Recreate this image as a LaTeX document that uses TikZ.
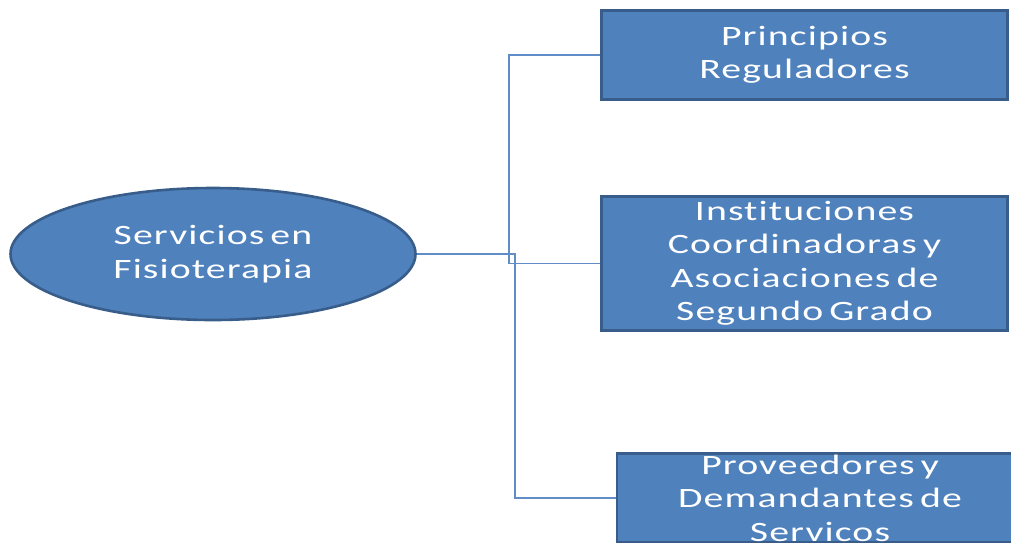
\documentclass[tikz,border=0pt]{standalone}
\usepackage{fontspec}
\setmainfont{Carlito}[FakeStretch=1.42, LetterSpace=4, WordSpace=0.6, RawFeature=-liga]
\usetikzlibrary{shapes.geometric}
\definecolor{fillblue}{RGB}{79,129,189}
\definecolor{edgeblue}{RGB}{56,93,138}
\definecolor{linkblue}{RGB}{96,140,200}
\tikzset{
  shapebase/.style={fill=fillblue, draw=edgeblue, line width=2.6pt, text=white, align=center,
    font=\fontsize{28}{33.5}\selectfont, inner sep=0pt},
  boxnode/.style={shapebase, rectangle, minimum width=406pt},
  ellnode/.style={shapebase, ellipse, minimum width=405pt, minimum height=132pt},
  linkline/.style={draw=linkblue, line width=1.3pt}
}
\begin{document}
\begin{tikzpicture}[x=1pt,y=-1pt]
\useasboundingbox (0,0) rectangle (1011,542);
\clip (0,0) rectangle (1011,542);
\node[ellnode] (el) at (213,254) {Servicios en\\Fisioterapia};
\node[boxnode, minimum height=89pt] (b1) at (804.5,55) {Principios\\Reguladores};
\node[boxnode, minimum height=134pt] (b2) at (804.5,263.5) {Instituciones\\Coordinadoras y\\Asociaciones de\\Segundo Grado};
\node[boxnode, minimum height=89pt] (b3) at (820,498) {Proveedores y\\Demandantes de\\Servicos};
\coordinate (j1) at (515,0);
\coordinate (j2) at (509,0);
\draw[linkline] (b1.west) -| (j2 |- b2.west) -- (b2.west);
\draw[linkline] (el.east) -| (j1 |- b3.west) -- (b3.west);
\end{tikzpicture}
\end{document}
